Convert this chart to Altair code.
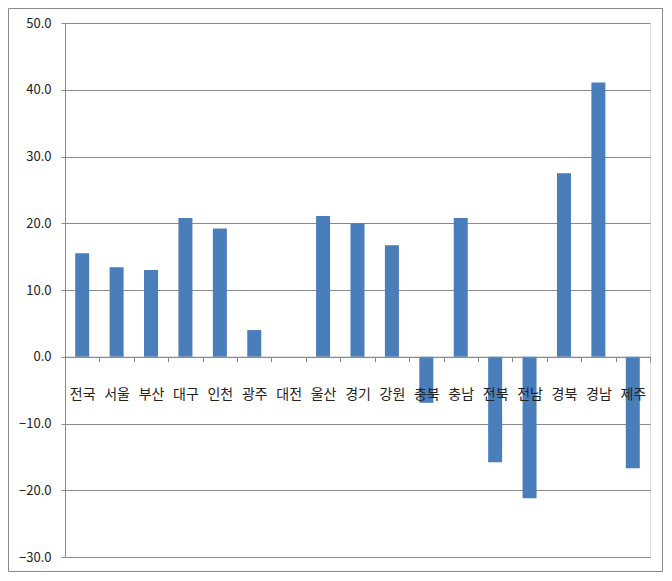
import altair as alt
import pandas as pd

categories = ["전국", "서울", "부산", "대구", "인천", "광주", "대전", "울산", "경기",
              "강원", "충북", "충남", "전북", "전남", "경북", "경남", "제주"]
values = [15.5, 13.4, 13.0, 20.8, 19.2, 4.0, 0.0, 21.1, 20.0,
          16.7, -6.9, 20.8, -15.8, -21.2, 27.5, 41.1, -16.7]
y_ticks = [-30, -20, -10, 0, 10, 20, 30, 40, 50]

df = pd.DataFrame({"region": categories, "value": values})

W, H = 585, 534
GRAY = "#8a8a8a"
FONT = "Noto Sans CJK KR"

bars = alt.Chart(df).mark_bar(color="#4A7EBB", width=14).encode(
    x=alt.X(
        "region:N", sort=categories, title=None,
        scale=alt.Scale(paddingInner=0, paddingOuter=0),
        axis=alt.Axis(
            labelAngle=0, offset=-(H * 30 / 80), tickBand="extent", tickSize=5,
            labelPadding=26, labelFontSize=14, labelFont=FONT, labelColor="#222222",
            domainColor=GRAY, tickColor=GRAY, zindex=1, grid=False,
        ),
    ),
    y=alt.Y(
        "value:Q", title=None,
        scale=alt.Scale(domain=[-30, 50], nice=False),
        axis=alt.Axis(
            values=y_ticks, format=".1f", tickSize=4, labelPadding=10,
            labelFontSize=13, labelFont=FONT, labelColor="#222222",
            domainColor=GRAY, tickColor=GRAY, gridColor=GRAY, grid=True,
        ),
    ),
)

border = alt.Chart(pd.DataFrame({"a": [0]})).mark_rect(
    fill=None, stroke=GRAY, strokeWidth=1
).encode(
    x=alt.value(-56.5), x2=alt.value(597.5),
    y=alt.value(-14.5), y2=alt.value(548.5),
)

chart = alt.layer(bars, border).properties(
    width=W, height=H,
    padding={"left": 57, "top": 15, "right": 14, "bottom": 16},
    autosize="none",
).configure_view(stroke=None).configure(background="white")

chart.save("out.html", embed_options={"renderer": "svg", "actions": False})
